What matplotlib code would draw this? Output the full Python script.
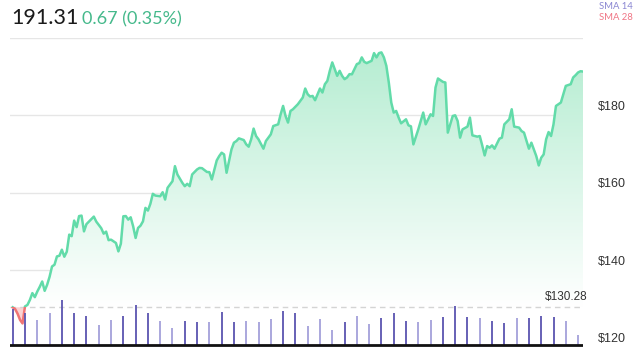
import numpy as np
import matplotlib
matplotlib.use("Agg")
import matplotlib.pyplot as plt
from matplotlib.colors import LinearSegmentedColormap
from matplotlib.patches import PathPatch, Rectangle
from matplotlib.path import Path
from matplotlib.transforms import ScaledTranslation

# ---------------- data ----------------
last_price = "191.31"
change_text = "0.67 (0.35%)"
ref_price = 130.28

days = [0, 1, 2, 3, 4, 5, 6, 7, 8, 9, 10, 11, 12, 13, 14, 15, 16, 17, 18, 19,
        20, 21, 22, 23, 24, 25, 26, 27, 28, 29, 30, 33, 34, 36, 37, 38, 39, 40, 42, 43,
        44, 45, 46, 47, 48, 49, 50, 51, 52, 53, 54, 55, 56, 57, 58, 60, 61, 62, 63, 65,
        66, 67, 69, 70, 71, 72, 73, 75, 76, 77, 79, 80, 81, 83, 84, 85, 86, 87, 89, 90,
        91, 92, 94, 95, 96, 97, 98, 99, 100, 102, 103, 105, 106, 108, 109, 110, 111, 112, 113, 114,
        116, 117, 118, 119, 120, 121, 122, 123, 124, 125, 126, 127, 128, 129, 130, 131, 132, 133, 134, 135,
        136, 137, 138, 139, 140, 141, 142, 143, 144, 146, 147, 148, 149, 150, 151, 152, 153, 154, 155, 156,
        157, 158, 160, 161, 162, 163, 165, 167, 168, 170, 171, 172, 173, 175, 176, 177, 179, 180, 181, 182,
        183, 185, 186, 187, 189, 190, 191, 192, 193, 194, 195, 196, 198, 199, 200, 202, 203, 204, 206, 207,
        208, 210, 211, 212, 213, 214, 215, 216, 217, 218, 219, 220, 221, 223, 224, 225, 227, 228, 229, 230,
        231, 232]

prices = [130.28, 129.80, 128.60, 127.00, 126.10, 130.50, 130.90, 132.20, 133.95, 132.90,
          134.36, 135.58, 136.96, 134.54, 136.10, 138.18, 140.85, 141.30, 143.45, 143.63,
          145.19, 143.37, 144.67, 149.09, 148.70, 152.72, 151.03, 153.89, 154.02, 149.94,
          151.81, 153.76, 152.46, 150.77, 149.35, 149.87, 147.66, 147.79, 146.93, 144.75,
          146.75, 153.84, 153.90, 152.98, 153.58, 151.24, 148.23, 150.83, 151.42, 152.54,
          156.02, 155.32, 157.06, 159.66, 159.21, 159.03, 160.07, 158.18, 161.21, 162.93,
          166.82, 164.67, 162.51, 161.63, 162.25, 161.63, 164.67, 165.97, 166.36, 166.30,
          165.32, 165.27, 163.37, 168.30, 169.42, 170.30, 169.86, 165.11, 171.16, 172.90,
          173.32, 174.02, 173.58, 172.46, 171.86, 173.76, 176.54, 174.62, 173.76, 171.34,
          173.32, 175.06, 177.21, 177.65, 180.25, 182.41, 179.81, 178.10, 181.11, 181.55,
          182.85, 183.70, 184.59, 186.92, 185.44, 184.85, 185.00, 183.89, 185.44, 186.92,
          185.89, 188.04, 188.90, 191.50, 193.68, 191.94, 190.20, 191.50, 190.20, 189.34,
          189.78, 190.64, 190.60, 191.94, 193.24, 193.50, 194.98, 193.83, 193.50, 194.09,
          196.09, 194.98, 196.09, 196.27, 194.98, 192.79, 188.48, 183.29, 180.69, 181.11,
          179.39, 177.91, 178.95, 177.39, 177.13, 172.46, 176.35, 180.69, 177.65, 180.25,
          179.81, 187.18, 189.52, 188.64, 188.48, 175.50, 179.81, 179.99, 178.51, 174.20,
          176.35, 177.06, 179.39, 174.80, 174.46, 174.62, 172.20, 169.60, 172.02, 171.60,
          172.20, 171.34, 173.94, 174.20, 177.65, 178.95, 181.55, 177.06, 176.80, 175.91,
          175.50, 171.34, 172.90, 171.16, 169.42, 167.00, 169.00, 169.86, 173.76, 175.65,
          174.62, 177.65, 182.41, 183.29, 185.44, 187.60, 188.04, 189.78, 190.38, 191.08,
          191.40, 191.31]

volume_days = list(range(0, 231, 5))
volumes_m = [36, 32, 25, 32, 45, 32, 29, 20, 25, 29, 40, 32, 24, 17, 24, 23, 23,
             33, 23, 24, 23, 26, 34, 32, 19, 26, 15, 23, 29, 21, 27, 32, 24, 23,
             25, 28, 39, 28, 27, 24, 22, 27, 27, 29, 28, 24, 10]
volume_up = [1, 1, 0, 0, 1, 1, 1, 0, 0, 1, 1, 1, 0, 0, 1, 1, 0,
             1, 1, 0, 0, 0, 1, 1, 0, 0, 0, 1, 0, 0, 1, 1, 1, 0,
             0, 1, 1, 1, 0, 1, 1, 0, 1, 1, 1, 0, 0]

price_ticks = [120, 140, 160, 180]
grid_levels = [140, 160, 180, 200]
tick_labels = ["$120", "$140", "$160", "$180"]
legend_items = ["SMA 14", "SMA 28"]

# ---------------- figure ----------------
days = np.array(days, dtype=float)
prices = np.array(prices)

fig = plt.figure(figsize=(6.4, 3.6), dpi=100)
fig.patch.set_facecolor("white")
ax = fig.add_axes([10 / 640, 13 / 360, 573 / 640, 309 / 360])
ax.set_facecolor("none")
vax = ax.twinx()

XMIN, XMAX = -1.1, 232.0
YMIN, YMAX = 120, 200

for g in grid_levels:
    ax.axhline(g, color="#e6e6e6", lw=1.0, zorder=0)

# gradient fill above reference
fb = ax.fill_between(days, prices, ref_price, where=prices >= ref_price,
                     interpolate=True, facecolor="none", edgecolor="none")
paths = fb.get_paths()
clip = PathPatch(Path.make_compound_path(*paths), transform=ax.transData,
                 facecolor="none", edgecolor="none")
ax.add_patch(clip)
cmap = LinearSegmentedColormap.from_list("g", ["#ffffff", "#b6edd2"])
grad = np.linspace(1, 0, 256).reshape(-1, 1)
im = ax.imshow(grad, extent=[XMIN, XMAX, ref_price, prices.max()], aspect="auto",
               cmap=cmap, origin="upper", zorder=1, interpolation="bilinear")
im.set_clip_path(clip)

# red fill below reference
ax.fill_between(days, prices, ref_price, where=prices < ref_price, interpolate=True,
                facecolor="#fbd3d3", edgecolor="none", zorder=1)

# reference dashed line
ax.axhline(ref_price, color="#d4d4d4", lw=1.0, ls=(0, (4, 3)), zorder=1.5)
ax.text(XMAX + 1.9, ref_price + 1.2, f"${ref_price:.2f}", ha="right", va="bottom",
        fontsize=8.5, color="#333333", family="Liberation Sans", zorder=5)

# price line: green above, red below reference
green_line, = ax.plot(days, prices, color="#62dba9", lw=1.8, zorder=3,
                      solid_joinstyle="round")
red_line, = ax.plot(days, prices, color="#f07575", lw=1.8, zorder=3.1,
                    solid_joinstyle="round")
below = Rectangle((XMIN, YMIN - 10), XMAX - XMIN, ref_price - YMIN + 10,
                  transform=ax.transData, facecolor="none", edgecolor="none")
above = Rectangle((XMIN, ref_price), XMAX - XMIN, YMAX - ref_price + 10,
                  transform=ax.transData, facecolor="none", edgecolor="none")
ax.add_patch(below)
ax.add_patch(above)
red_line.set_clip_path(below)
green_line.set_clip_path(above)

ax.set_xlim(XMIN, XMAX)
ax.set_ylim(YMIN, YMAX)
ax.set_xticks([])
for s in ax.spines.values():
    s.set_visible(False)

# volume
vax.set_ylim(-2, 307)
vax.set_xlim(XMIN, XMAX)
vcolors = ["#5b54b0" if u else "#a4a0da" for u in volume_up]
vax.vlines(volume_days, 0, volumes_m, colors=vcolors, lw=1.3, zorder=2)
vax.axhline(0, color="#111111", lw=2.0, zorder=3)
vax.set_yticks([])
vax.set_xticks([])
for s in vax.spines.values():
    s.set_visible(False)

# price tick labels on the right
ax.yaxis.set_ticks_position("none")
ax.set_yticks(price_ticks)
ax.set_yticklabels([])
for val, lab in zip(price_ticks, tick_labels):
    ax.text(1.0, val, lab, transform=ax.get_yaxis_transform() +
            ScaledTranslation(15 / 100, 8 / 100, fig.dpi_scale_trans),
            ha="left", va="center", fontsize=9, color="#333333",
            family="Liberation Sans", clip_on=False)

# header
fig.text(11 / 640, 1 - 24 / 360, last_price, fontsize=15.5, color="#1a1a1a",
         family="Lato", weight="normal", va="baseline")
fig.text(82 / 640, 1 - 24 / 360, change_text, fontsize=13, color="#45b98b",
         family="Lato", weight="normal", va="baseline")
fig.text(599 / 640, 1 - 9 / 360, legend_items[0], fontsize=6.8, color="#8a86d2",
         family="Lato", va="baseline")
fig.text(599 / 640, 1 - 20 / 360, legend_items[1], fontsize=6.8, color="#f07585",
         family="Lato", va="baseline")

fig.savefig("out.png", dpi=100)
